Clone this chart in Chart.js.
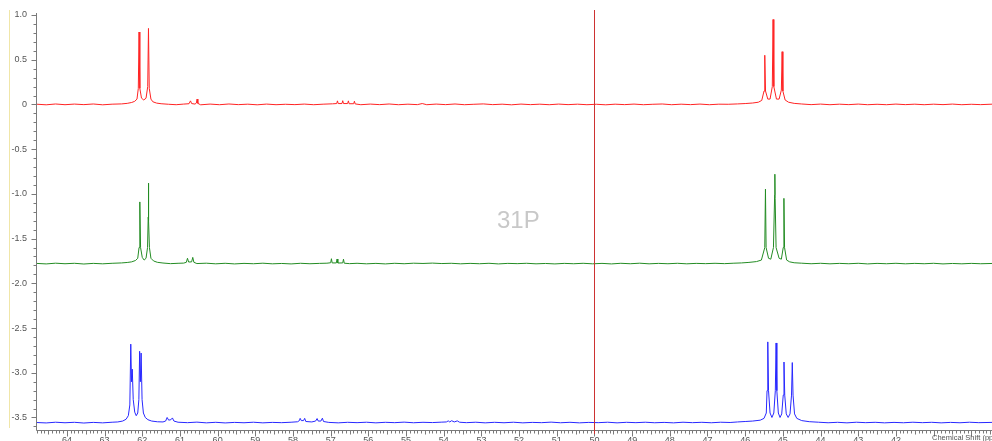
<!DOCTYPE html>
<html>
<head>
<meta charset="utf-8">
<script src="https://cdn.jsdelivr.net/npm/chart.js@4.4.1/dist/chart.umd.min.js"></script>
<style>
  html, body { margin: 0; padding: 0; background: #fff; }
  #wrap { position: relative; width: 992px; height: 441px; overflow: hidden; }
  #nucleus { position: absolute; left: 497px; top: 206px; font: 24px "Liberation Sans", Arial, sans-serif; color: #c8c8c8; }
</style>
</head>
<body>
<div id="wrap">
  <canvas id="spec" width="992" height="441"></canvas>
  <div id="nucleus">31P</div>
</div>
<script>
// tick labels
const xTickLabels = [64, 63, 62, 61, 60, 59, 58, 57, 56, 55, 54, 53, 52, 51, 50, 49, 48, 47, 46, 45, 44, 43, 42];
const yTickLabels = [1.0, 0.5, 0, -0.5, -1.0, -1.5, -2.0, -2.5, -3.0, -3.5];
const cursorPpm = 50;

// spectra: [chemical shift (ppm), intensity]
const redTrace = [
  [64.82,0.003],[64.55,-0.004],[64.3,0.005],[64.05,-0.003],[63.8,0.004],[63.55,-0.002],[63.3,0.005],[63.05,-0.004],
  [62.8,0.003],[62.55,0.006],[62.4,0.012],[62.28,0.022],[62.2,0.035],[62.14,0.06],[62.105,0.18],[62.085,0.81],
  [62.065,0.18],[62.02,0.07],[61.96,0.05],[61.9,0.07],[61.855,0.2],[61.835,0.85],[61.815,0.18],[61.77,0.06],
  [61.72,0.03],[61.62,0.015],[61.5,0.008],[61.3,0.002],[61.1,-0.003],[60.9,0.004],[60.76,0.008],[60.72,0.04],
  [60.69,0.01],[60.6,0.004],[60.565,0.015],[60.545,0.06],[60.525,0.012],[60.45,-0.004],[60.2,0.004],[59.95,-0.003],
  [59.7,0.005],[59.45,-0.002],[59.2,0.003],[58.95,-0.004],[58.7,0.004],[58.45,-0.003],[58.2,0.002],[57.95,-0.002],
  [57.7,0.004],[57.45,-0.003],[57.2,0.003],[56.95,0.007],[56.84,0.01],[56.82,0.04],[56.8,0.01],[56.7,0.01],
  [56.68,0.042],[56.66,0.01],[56.55,0.01],[56.53,0.04],[56.51,0.008],[56.39,0.008],[56.37,0.036],[56.35,0.006],
  [56.2,-0.003],[55.95,0.004],[55.7,-0.002],[55.45,0.005],[55.2,-0.003],[54.95,0.003],[54.7,-0.002],[54.57,0.01],
  [54.45,-0.003],[54.2,0.004],[53.95,-0.002],[53.7,0.005],[53.45,-0.003],[53.2,0.002],[52.95,0.006],[52.7,-0.002],
  [52.45,0.003],[52.2,-0.004],[51.95,0.004],[51.7,-0.002],[51.45,0.003],[51.2,-0.003],[50.95,0.004],[50.7,-0.002],
  [50.45,0.003],[50.2,-0.003],[49.95,0.002],[49.7,-0.004],[49.45,0.003],[49.2,-0.002],[48.95,0.004],[48.7,-0.003],
  [48.45,0.002],[48.2,0.005],[47.95,-0.003],[47.7,0.003],[47.45,-0.002],[47.2,0.004],[46.95,-0.003],[46.7,0.003],
  [46.45,0.002],[46.2,0.006],[46.0,0.01],[45.8,0.016],[45.65,0.025],[45.56,0.045],[45.5,0.15],[45.48,0.55],
  [45.46,0.15],[45.4,0.06],[45.34,0.06],[45.28,0.2],[45.26,0.95],[45.24,0.2],[45.17,0.06],[45.1,0.06],
  [45.04,0.16],[45.02,0.59],[45.0,0.15],[44.94,0.05],[44.85,0.025],[44.7,0.012],[44.5,0.005],[44.25,-0.002],
  [44.0,0.004],[43.75,-0.003],[43.5,0.003],[43.25,-0.002],[43.0,0.004],[42.75,-0.003],[42.5,0.002],[42.25,-0.003],
  [42.0,0.004],[41.75,-0.002],[41.5,0.003],[41.25,-0.003],[41.0,0.003],[40.75,-0.002],[40.5,0.004],[40.25,-0.003],
  [40.0,0.002],[39.75,-0.002],[39.45,0.003]
];

const greenTrace = [
  [64.82,-1.777],[64.55,-1.783],[64.3,-1.775],[64.05,-1.781],[63.8,-1.776],[63.55,-1.784],[63.3,-1.777],[63.05,-1.782],
  [62.8,-1.776],[62.55,-1.772],[62.4,-1.767],[62.28,-1.76],[62.18,-1.745],[62.12,-1.72],[62.085,-1.6],[62.065,-1.09],
  [62.045,-1.6],[62.0,-1.71],[61.95,-1.74],[61.9,-1.72],[61.86,-1.6],[61.842,-1.26],[61.836,-0.88],[61.83,-1.3],
  [61.81,-1.6],[61.77,-1.72],[61.7,-1.75],[61.6,-1.765],[61.45,-1.773],[61.25,-1.78],[61.05,-1.776],[60.9,-1.774],
  [60.83,-1.765],[60.8,-1.72],[60.77,-1.762],[60.69,-1.76],[60.66,-1.71],[60.63,-1.765],[60.55,-1.779],[60.3,-1.775],
  [60.05,-1.782],[59.8,-1.776],[59.55,-1.783],[59.3,-1.777],[59.05,-1.781],[58.8,-1.775],[58.55,-1.782],[58.3,-1.778],
  [58.05,-1.783],[57.8,-1.776],[57.55,-1.781],[57.3,-1.777],[57.1,-1.775],[57.0,-1.77],[56.98,-1.725],[56.96,-1.772],
  [56.85,-1.772],[56.83,-1.728],[56.81,-1.773],[56.68,-1.772],[56.66,-1.73],[56.64,-1.775],[56.5,-1.78],[56.3,-1.776],
  [56.05,-1.782],[55.8,-1.777],[55.55,-1.783],[55.3,-1.776],[55.05,-1.781],[54.8,-1.775],[54.55,-1.778],[54.3,-1.774],
  [54.05,-1.779],[53.8,-1.776],[53.55,-1.782],[53.3,-1.777],[53.05,-1.781],[52.8,-1.776],[52.55,-1.783],[52.3,-1.777],
  [52.05,-1.78],[51.8,-1.776],[51.55,-1.782],[51.3,-1.778],[51.05,-1.783],[50.8,-1.777],[50.55,-1.781],[50.3,-1.776],
  [50.05,-1.782],[49.8,-1.777],[49.55,-1.783],[49.3,-1.776],[49.05,-1.781],[48.8,-1.775],[48.55,-1.782],[48.3,-1.777],
  [48.05,-1.781],[47.8,-1.776],[47.55,-1.782],[47.3,-1.777],[47.05,-1.78],[46.8,-1.776],[46.55,-1.78],[46.3,-1.775],
  [46.1,-1.772],[45.9,-1.766],[45.7,-1.757],[45.57,-1.74],[45.48,-1.6],[45.462,-0.947],[45.445,-1.6],[45.38,-1.72],
  [45.32,-1.73],[45.25,-1.6],[45.218,-1.01],[45.212,-0.78],[45.205,-1.05],[45.18,-1.6],[45.1,-1.72],[45.04,-1.73],
  [44.99,-1.6],[44.972,-1.05],[44.955,-1.6],[44.9,-1.74],[44.82,-1.76],[44.7,-1.77],[44.5,-1.775],[44.25,-1.781],
  [44.0,-1.776],[43.75,-1.782],[43.5,-1.777],[43.25,-1.781],[43.0,-1.776],[42.75,-1.783],[42.5,-1.777],[42.25,-1.781],
  [42.0,-1.776],[41.75,-1.782],[41.5,-1.777],[41.25,-1.781],[41.0,-1.776],[40.75,-1.783],[40.5,-1.778],[40.25,-1.782],
  [40.0,-1.777],[39.75,-1.781],[39.45,-1.778]
];

const blueTrace = [
  [64.82,-3.556],[64.55,-3.561],[64.3,-3.553],[64.05,-3.559],[63.8,-3.554],[63.55,-3.562],[63.3,-3.555],[63.05,-3.56],
  [62.8,-3.553],[62.65,-3.55],[62.52,-3.54],[62.43,-3.52],[62.37,-3.48],[62.33,-3.36],[62.305,-2.68],[62.285,-3.1],
  [62.265,-2.96],[62.24,-3.3],[62.2,-3.44],[62.16,-3.48],[62.12,-3.45],[62.09,-3.3],[62.07,-2.76],[62.05,-3.1],
  [62.03,-2.78],[62.005,-3.3],[61.97,-3.45],[61.92,-3.5],[61.85,-3.525],[61.75,-3.54],[61.6,-3.548],[61.45,-3.55],
  [61.38,-3.54],[61.34,-3.5],[61.3,-3.53],[61.24,-3.525],[61.2,-3.505],[61.16,-3.54],[61.05,-3.553],[60.8,-3.558],
  [60.55,-3.552],[60.3,-3.56],[60.05,-3.554],[59.8,-3.561],[59.55,-3.555],[59.3,-3.559],[59.05,-3.553],[58.8,-3.56],
  [58.55,-3.555],[58.3,-3.558],[58.05,-3.553],[57.88,-3.548],[57.83,-3.535],[57.81,-3.51],[57.78,-3.535],[57.72,-3.535],
  [57.69,-3.51],[57.66,-3.545],[57.5,-3.55],[57.4,-3.54],[57.36,-3.512],[57.33,-3.54],[57.26,-3.54],[57.22,-3.508],
  [57.19,-3.545],[57.05,-3.555],[56.8,-3.56],[56.55,-3.554],[56.3,-3.558],[56.05,-3.553],[55.8,-3.56],[55.55,-3.554],
  [55.3,-3.558],[55.05,-3.552],[54.8,-3.559],[54.55,-3.554],[54.3,-3.557],[54.05,-3.552],[53.93,-3.55],[53.88,-3.538],
  [53.84,-3.55],[53.79,-3.536],[53.72,-3.55],[53.64,-3.538],[53.58,-3.553],[53.4,-3.558],[53.15,-3.553],[52.9,-3.56],
  [52.65,-3.554],[52.4,-3.559],[52.15,-3.553],[51.9,-3.56],[51.65,-3.555],[51.4,-3.558],[51.15,-3.552],[50.9,-3.559],
  [50.65,-3.554],[50.4,-3.56],[50.15,-3.555],[49.9,-3.558],[49.65,-3.553],[49.4,-3.56],[49.15,-3.554],[48.9,-3.558],
  [48.65,-3.553],[48.4,-3.559],[48.15,-3.555],[47.9,-3.56],[47.65,-3.553],[47.4,-3.558],[47.15,-3.554],[46.9,-3.559],
  [46.65,-3.553],[46.4,-3.556],[46.2,-3.55],[46.0,-3.545],[45.8,-3.54],[45.6,-3.53],[45.5,-3.51],[45.44,-3.45],
  [45.42,-3.2],[45.4,-2.655],[45.38,-3.2],[45.34,-3.45],[45.29,-3.5],[45.24,-3.45],[45.2,-3.2],[45.18,-2.667],
  [45.16,-3.2],[45.12,-3.45],[45.075,-3.5],[45.03,-3.46],[44.99,-3.25],[44.97,-2.88],[44.95,-3.25],[44.91,-3.46],
  [44.86,-3.5],[44.81,-3.46],[44.77,-3.25],[44.75,-2.886],[44.73,-3.25],[44.69,-3.46],[44.63,-3.51],[44.5,-3.535],
  [44.3,-3.547],[44.05,-3.553],[43.8,-3.559],[43.55,-3.554],[43.3,-3.56],[43.05,-3.553],[42.8,-3.558],[42.55,-3.554],
  [42.3,-3.56],[42.05,-3.555],[41.8,-3.559],[41.55,-3.553],[41.3,-3.558],[41.05,-3.554],[40.8,-3.56],[40.55,-3.555],
  [40.3,-3.559],[40.05,-3.553],[39.8,-3.558],[39.45,-3.555]
];

const toPoints = arr => arr.map(p => ({ x: p[0], y: p[1] }));
const labelFont = { family: '"Liberation Sans", Arial, sans-serif', size: 9 };

// axis lines, minor ticks, cursor, axis title
const decor = {
  id: 'decor',
  afterDraw(chart) {
    const { ctx, chartArea: a, scales: { x, y } } = chart;
    ctx.save();
    ctx.lineWidth = 1;

    // pale frame line on the far left
    ctx.strokeStyle = '#f0e6a8';
    ctx.beginPath();
    ctx.moveTo(9.5, a.top);
    ctx.lineTo(9.5, a.bottom - 2);
    ctx.stroke();

    ctx.strokeStyle = '#7a7a7a';
    ctx.beginPath();
    const ax = a.left + 0.5, ay = a.bottom + 0.5;
    ctx.moveTo(ax, y.getPixelForValue(1.0) - 2);
    ctx.lineTo(ax, ay);
    ctx.lineTo(a.right, ay);
    for (let k = -36; k <= 10; k++) {
      const py = Math.round(y.getPixelForValue(k / 10)) + 0.5;
      const len = k % 5 === 0 ? 5 : 3;
      ctx.moveTo(ax, py);
      ctx.lineTo(ax - len, py);
    }
    for (let k = 395; k <= 648; k++) {
      const px = Math.round(x.getPixelForValue(k / 10)) + 0.5;
      const len = k % 10 === 0 ? 6 : (k % 5 === 0 ? 4 : 3);
      ctx.moveTo(px, ay);
      ctx.lineTo(px, ay + len);
    }
    ctx.stroke();

    // cursor line
    const cx = Math.round(x.getPixelForValue(cursorPpm)) + 0.5;
    ctx.strokeStyle = 'rgb(205,50,50)';
    ctx.beginPath();
    ctx.moveTo(cx, a.top);
    ctx.lineTo(cx, a.bottom + 4);
    ctx.stroke();

    ctx.fillStyle = '#555';
    ctx.font = '7.5px "Liberation Sans", Arial, sans-serif';
    ctx.textBaseline = 'top';
    ctx.fillText('Chemical Shift (ppm)', 932, 434);
    ctx.restore();
  }
};

new Chart(document.getElementById('spec'), {
  type: 'line',
  data: {
    datasets: [
      { data: toPoints(redTrace), borderColor: 'rgb(255,35,35)' },
      { data: toPoints(greenTrace), borderColor: 'rgb(35,140,35)' },
      { data: toPoints(blueTrace), borderColor: 'rgb(40,40,255)' }
    ]
  },
  options: {
    responsive: false,
    animation: false,
    parsing: false,
    normalized: true,
    layout: { padding: { top: 10, right: 0, left: 0, bottom: 0 } },
    elements: {
      line: { borderWidth: 1, tension: 0, borderJoinStyle: 'round' },
      point: { radius: 0 }
    },
    plugins: { legend: { display: false }, tooltip: { enabled: false } },
    scales: {
      x: {
        type: 'linear',
        reverse: true,
        min: 39.45,
        max: 64.82,
        grid: { display: true, drawOnChartArea: false, drawTicks: true, tickLength: 5, tickColor: 'rgba(0,0,0,0)' },
        border: { display: false },
        afterFit: s => { s.height = 11; },
        afterBuildTicks: s => { s.ticks = xTickLabels.map(v => ({ value: v })); },
        ticks: { autoSkip: false, maxRotation: 0, padding: 0, color: '#555', font: labelFont, callback: v => String(v) }
      },
      y: {
        type: 'linear',
        min: -3.64,
        max: 1.056,
        grid: { display: true, drawOnChartArea: false, drawTicks: true, tickLength: 9, tickColor: 'rgba(0,0,0,0)' },
        border: { display: false },
        afterFit: s => { s.width = 36; },
        afterBuildTicks: s => { s.ticks = yTickLabels.map(v => ({ value: v })); },
        ticks: { padding: 0, color: '#555', font: labelFont, callback: v => (v === 0 ? '0' : v.toFixed(1)) }
      }
    }
  },
  plugins: [decor]
});
</script>
</body>
</html>
